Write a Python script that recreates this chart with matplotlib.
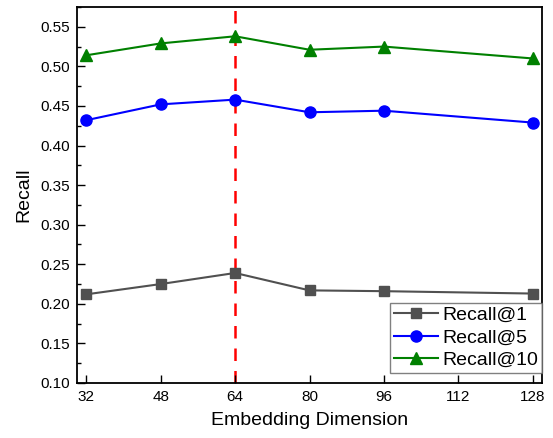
import matplotlib
matplotlib.use("Agg")
import matplotlib.pyplot as plt
from matplotlib.ticker import MultipleLocator

plt.rcParams['font.family'] = ['Liberation Sans', 'DejaVu Sans']

# embedding dimensions on the x axis
dims = [32, 48, 64, 80, 96, 128]
# recall values per cutoff
recall_1 = [0.212, 0.225, 0.239, 0.217, 0.216, 0.213]
recall_5 = [0.432, 0.452, 0.458, 0.442, 0.444, 0.429]
recall_10 = [0.514, 0.529, 0.538, 0.521, 0.525, 0.510]
best_dim = 64

fig = plt.figure(figsize=(5.53, 4.38), dpi=100)
ax = fig.add_axes([77 / 553, 1 - 383 / 438, 465 / 553, 376 / 438])

ax.plot(dims, recall_1, color='#505050', marker='s', markersize=7, linewidth=1.5, label='Recall@1')
ax.plot(dims, recall_5, color='#0000ff', marker='o', markersize=8, linewidth=1.5, label='Recall@5')
ax.plot(dims, recall_10, color='#008000', marker='^', markersize=9, linewidth=1.5, label='Recall@10')
ax.axvline(best_dim, color='#ff0000', linestyle=(0, (5, 4)), linewidth=1.8, zorder=1)

ax.set_xlim(30, 130)
ax.set_ylim(0.10, 0.575)
ax.set_xticks([32, 48, 64, 80, 96, 112, 128])
ax.yaxis.set_major_locator(MultipleLocator(0.05))
ax.yaxis.set_minor_locator(MultipleLocator(0.025))
ax.yaxis.set_major_formatter(plt.FormatStrFormatter('%.2f'))
ax.tick_params(which='major', direction='in', length=6, width=1, labelsize=11, pad=5)
ax.tick_params(which='minor', direction='in', length=3, width=1)
for s in ax.spines.values():
    s.set_linewidth(1.3)

ax.set_xlabel('Embedding Dimension', fontsize=14, labelpad=6)
ax.set_ylabel('Recall', fontsize=14, labelpad=6)

leg = ax.legend(loc='lower right', bbox_to_anchor=(1.0, 0.027), fontsize=14,
                frameon=True, fancybox=False, borderaxespad=0, borderpad=0.2,
                handlelength=2.3, handletextpad=0.2, labelspacing=0.25)
leg.get_frame().set_edgecolor('#606060')
leg.get_frame().set_linewidth(1)

fig.savefig('out.png', dpi=100)
